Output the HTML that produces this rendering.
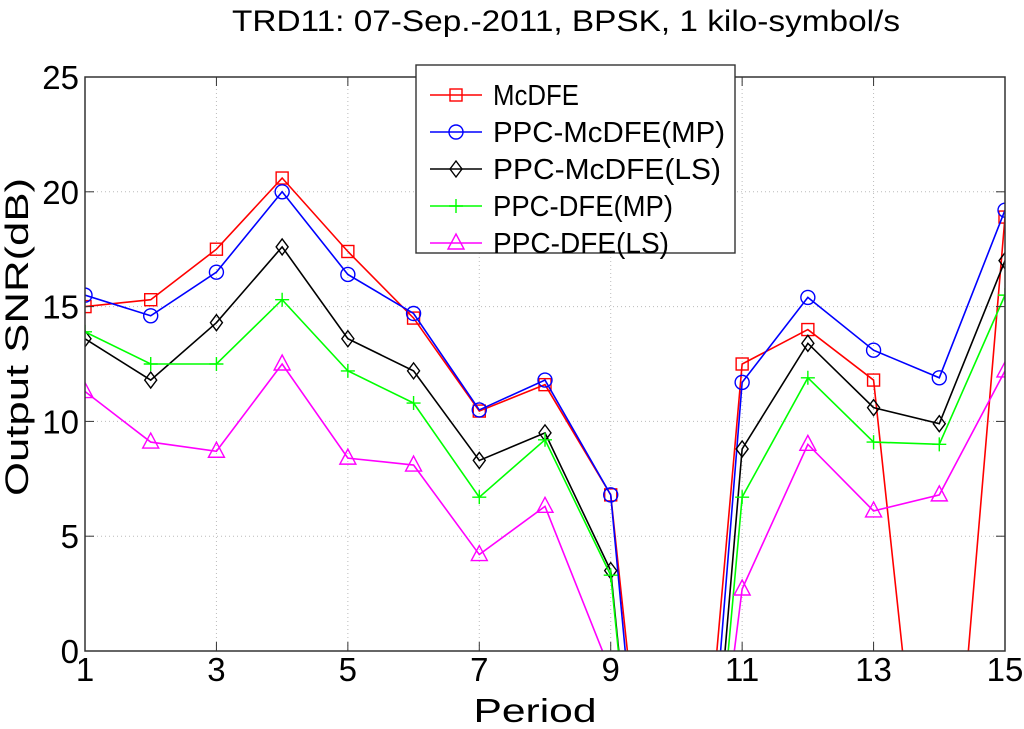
<!DOCTYPE html>
<html><head><meta charset="utf-8"><style>
html,body{margin:0;padding:0;background:#fff;overflow:hidden;width:1024px;height:729px;}
svg{display:block;overflow:hidden;}
svg text{font-family:"Liberation Sans",sans-serif;}
</style></head><body>
<svg id="chart" width="1024" height="729" viewBox="0 0 1024 729">
<defs><clipPath id="pc"><rect x="85" y="77" width="920" height="574"/></clipPath></defs>
<rect x="0" y="0" width="1024" height="729" fill="#fff"/>
<text x="566" y="31" font-size="30" text-anchor="middle" textLength="668" lengthAdjust="spacingAndGlyphs">TRD11: 07-Sep.-2011, BPSK, 1 kilo-symbol/s</text>
<g id="grid"></g>
<g id="series" clip-path="url(#pc)"></g>
<rect x="85" y="77" width="920" height="574" fill="none" stroke="#333" stroke-width="1.5"/>
<g id="ticks"></g>
<text x="535" y="722" font-size="33" text-anchor="middle" textLength="123" lengthAdjust="spacingAndGlyphs">Period</text>
<text transform="translate(28,337) rotate(-90)" font-size="32" text-anchor="middle" textLength="318" lengthAdjust="spacingAndGlyphs">Output SNR(dB)</text>
<g id="legend"></g>
</svg>
<script>
const periods=[1,2,3,4,5,6,7,8,9,10,11,12,13,14,15];
const mcdfe=[15.0,15.3,17.5,20.6,17.4,14.5,10.45,11.6,6.8,-20,12.5,14.0,11.8,-15,18.9];
const ppcMcdfeMP=[15.5,14.6,16.5,20.0,16.4,14.7,10.5,11.8,6.8,-24,11.7,15.4,13.1,11.9,19.2];
const ppcMcdfeLS=[13.6,11.8,14.3,17.6,13.6,12.2,8.3,9.5,3.5,-25,8.8,13.4,10.6,9.9,17.0];
const ppcDfeMP=[13.9,12.5,12.5,15.3,12.2,10.8,6.7,9.2,3.3,-25,6.7,11.9,9.1,9.0,15.5];
const ppcDfeLS=[11.3,9.1,8.7,12.5,8.4,8.1,4.2,6.3,-0.9,-20,2.7,9.0,6.1,6.8,12.2];
const xTicks=[1,3,5,7,9,11,13,15];
const yTicks=[0,5,10,15,20,25];
const seriesNames=["McDFE","PPC-McDFE(MP)","PPC-McDFE(LS)","PPC-DFE(MP)","PPC-DFE(LS)"];
const legendWidths=[86,232,228,180,176];

const NS="http://www.w3.org/2000/svg";
const X=v=>85+(v-1)*(920/14);
const Y=v=>651-v*(574/25);
function mk(tag,attrs,parent){const e=document.createElementNS(NS,tag);for(const k in attrs)e.setAttribute(k,attrs[k]);parent.appendChild(e);return e;}
const grid=document.getElementById('grid'),ticks=document.getElementById('ticks'),ser=document.getElementById('series'),leg=document.getElementById('legend');
xTicks.forEach(t=>{
  const g=mk('line',{x1:X(t),x2:X(t),y1:77,y2:651,stroke:'#bbb','stroke-dasharray':'1,3'},grid);
  
  
  mk('line',{x1:X(t),x2:X(t),y1:651,y2:642,stroke:'#333'},ticks);
  mk('line',{x1:X(t),x2:X(t),y1:77,y2:86,stroke:'#333'},ticks);
  const l=mk('text',{x:X(t),y:681,'font-size':33,'text-anchor':'middle'},ticks);l.textContent=t;
  
  
});
yTicks.forEach(t=>{
  const g=mk('line',{x1:85,x2:1005,y1:Y(t),y2:Y(t),stroke:'#bbb','stroke-dasharray':'1,3'},grid);
  
  
  mk('line',{x1:85,x2:94,y1:Y(t),y2:Y(t),stroke:'#333'},ticks);
  mk('line',{x1:996,x2:1005,y1:Y(t),y2:Y(t),stroke:'#333'},ticks);
  const l=mk('text',{x:79,y:Y(t)+12,'font-size':33,'text-anchor':'end'},ticks);l.textContent=t;
  
  
});
function marker(type,x,y,c,parent){
  let e;
  if(type==='sq')e=mk('rect',{x:x-6,y:y-6,width:12,height:12,fill:'none',stroke:c,'stroke-width':1.4},parent);
  else if(type==='ci')e=mk('circle',{cx:x,cy:y,r:7,fill:'none',stroke:c,'stroke-width':1.4},parent);
  else if(type==='di')e=mk('polygon',{points:`${x},${y-8} ${x+6},${y} ${x},${y+8} ${x-6},${y}`,fill:'none',stroke:c,'stroke-width':1.4},parent);
  else if(type==='pl')e=mk('path',{d:`M${x-7},${y}H${x+7}M${x},${y-7}V${y+7}`,stroke:c,'stroke-width':1.4},parent);
  else e=mk('polygon',{points:`${x},${y-9} ${x+8},${y+6} ${x-8},${y+6}`,fill:'none',stroke:c,'stroke-width':1.4},parent);
  return e;
}
const defs=[[mcdfe,'#ff0000','sq'],[ppcMcdfeMP,'#0000ff','ci'],[ppcMcdfeLS,'#000000','di'],[ppcDfeMP,'#00ff00','pl'],[ppcDfeLS,'#ff00ff','tr']];
defs.forEach((d,i)=>{
  const [vals,c,m]=d;
  const p=mk('polyline',{points:vals.map((v,j)=>X(periods[j])+','+Y(v)).join(' '),fill:'none',stroke:c,'stroke-width':1.6},ser);
  
  
  vals.forEach((v,j)=>{const mm=marker(m,X(periods[j]),Y(v),c,ser);
    
    });
});
const lb=mk('rect',{x:416,y:65,width:319,height:188,fill:'#fff',stroke:'#333','stroke-width':1.4},leg);


defs.forEach((d,i)=>{
  const y=95+i*37;
  mk('line',{x1:430,x2:482,y1:y,y2:y,stroke:d[1],'stroke-width':1.6},leg);
  marker(d[2],456,y,d[1],leg);
  const t=mk('text',{x:493,y:y+10,'font-size':29,textLength:legendWidths[i],lengthAdjust:'spacingAndGlyphs'},leg);t.textContent=seriesNames[i];
  
  
});
</script>
</body></html>
